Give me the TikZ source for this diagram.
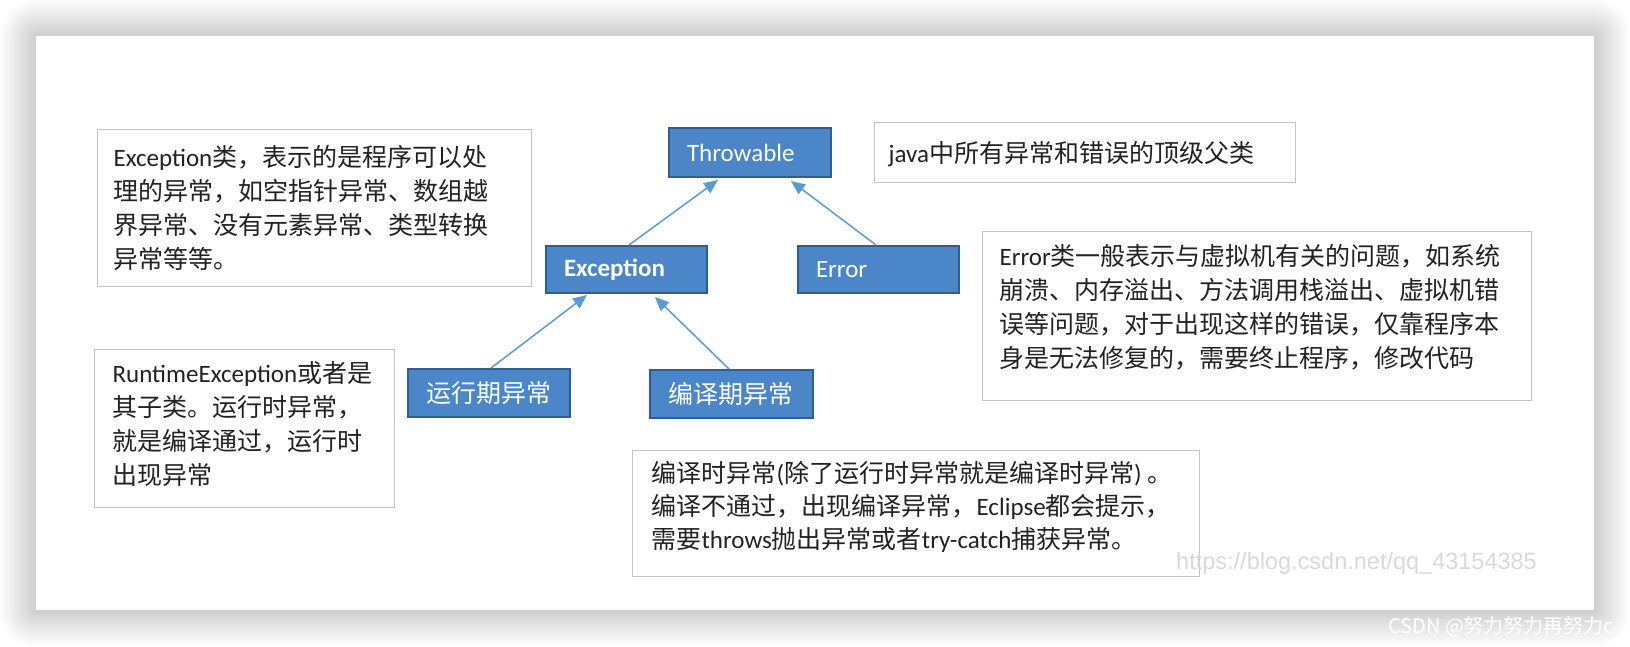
\documentclass[tikz,border=0pt]{standalone}
\usepackage{fontspec}
\setmainfont{Noto Sans CJK SC}
\newfontfamily\lat{Carlito}
\newfontfamily\arial{Liberation Sans}
\usetikzlibrary{arrows.meta}
\definecolor{boxblue}{HTML}{4A86C8}
\definecolor{boxborder}{HTML}{2F5E96}
\definecolor{arrowblue}{HTML}{5B9BD5}
\definecolor{txt}{HTML}{222222}
\definecolor{frame}{HTML}{C4C4C4}
\definecolor{wm}{HTML}{D9D9D9}
\newcommand{\notetext}[4]{\parbox[c][#1pt][t]{#2pt}{\fontsize{25}{#3}\selectfont\rule{0pt}{#4pt}\ignorespaces}}
\begin{document}
\begin{tikzpicture}[x=1pt,y=-1pt,
  classbox/.style={draw=boxborder, line width=2pt, fill=boxblue, text=white,
    anchor=north west, inner xsep=18pt, inner ysep=0pt, align=left,
    font=\fontsize{25}{30}\selectfont},
  note/.style={draw=frame, line width=1.2pt, fill=white, anchor=north west,
    inner ysep=0pt, text=txt},
  arr/.style={draw=arrowblue, line width=1.5pt, -{Triangle[length=14pt,width=12pt]}},
]
\useasboundingbox (0,0) rectangle (1630,646);
\clip (0,0) rectangle (1630,646);
% shadow of the card
\foreach \i in {1,...,24}{
  \fill[black, opacity=0.008, rounded corners=\i*1.5pt]
    ({36-\i*1.5},{36-\i*1.5}) rectangle ({1594+\i*1.5},{610+\i*1.5});
}
\fill[white] (36,36) rectangle (1594,610);

% class boxes
\node[classbox, minimum width=162pt, minimum height=49pt, text width=126pt] (thr) at (668,127) {{\lat Throwable}};
\node[classbox, minimum width=161pt, minimum height=47pt, text width=125pt] (exc) at (545,245) {{\lat\bfseries Exception}};
\node[classbox, minimum width=161pt, minimum height=47pt, text width=125pt] (err) at (797,245) {{\lat Error}};
\node[classbox, minimum width=162pt, minimum height=48pt, text width=126pt] (run) at (407,368) {运行期异常};
\node[classbox, minimum width=163pt, minimum height=48pt, text width=127pt] (cmp) at (649,369) {编译期异常};

% connectors
\draw[arr] ([xshift=84pt]exc.north west) -- ([xshift=50pt,yshift=-2pt]thr.south west);
\draw[arr] ([xshift=79pt]err.north west) -- ([xshift=123pt,yshift=-3pt]thr.south west);
\draw[arr] ([xshift=84pt]run.north west) -- ([xshift=42pt,yshift=-1pt]exc.south west);
\draw[arr] ([xshift=80pt]cmp.north west) -- ([xshift=110pt,yshift=-3pt]exc.south west);

% notes
\node[note, inner xsep=16pt] (nexc) at (97,129) {\parbox[c][157pt][t]{402pt}{\fontsize{25}{34}\selectfont\rule{0pt}{36.5pt}{\lat Exception}类，表示的是程序可以处\\理的异常，如空指针异常、数组越\\界异常、没有元素异常、类型转换\\异常等等。}};
\node[note, inner xsep=18pt] (nrun) at (94,349) {\parbox[c][158pt][t]{264pt}{\fontsize{25}{34}\selectfont\rule{0pt}{32.5pt}{\lat RuntimeException}或者是\\其子类。运行时异常，\\就是编译通过，运行时\\出现异常}};
\node[note, inner xsep=19pt] (ncmp) at (632,450) {\parbox[c][126pt][t]{529pt}{\fontsize{25}{33}\selectfont\rule{0pt}{31.5pt}编译时异常{\lat (}除了运行时异常就是编译时异常{\lat )} 。\\编译不通过，出现编译异常，{\lat Eclipse}都会提示，\\需要{\lat throws}抛出异常或者{\lat try-catch}捕获异常。}};
\node[note, inner xsep=14pt] (njava) at (874,122) {\parbox[c][60pt][t]{393pt}{\fontsize{25}{34}\selectfont\rule{0pt}{39.5pt}{\lat java}中所有异常和错误的顶级父类}};
\node[note, inner xsep=17pt] (nerr) at (982,231) {\parbox[c][169pt][t]{515pt}{\fontsize{25}{34}\selectfont\rule{0pt}{33.5pt}{\lat Error}类一般表示与虚拟机有关的问题，如系统\\崩溃、内存溢出、方法调用栈溢出、虚拟机错\\误等问题，对于出现这样的错误，仅靠程序本\\身是无法修复的，需要终止程序，修改代码}};

% watermarks
\node[anchor=west, inner sep=0pt, text=wm, font=\arial\fontsize{23.5}{28}\selectfont] (wm1) at (1176,563) {https://blog.csdn.net/qq\_43154385};
\node[anchor=west, inner sep=0pt, text=white, font=\fontsize{20}{24}\selectfont] (wm2) at (1388,627) {CSDN @努力努力再努力c};
\end{tikzpicture}
\end{document}
